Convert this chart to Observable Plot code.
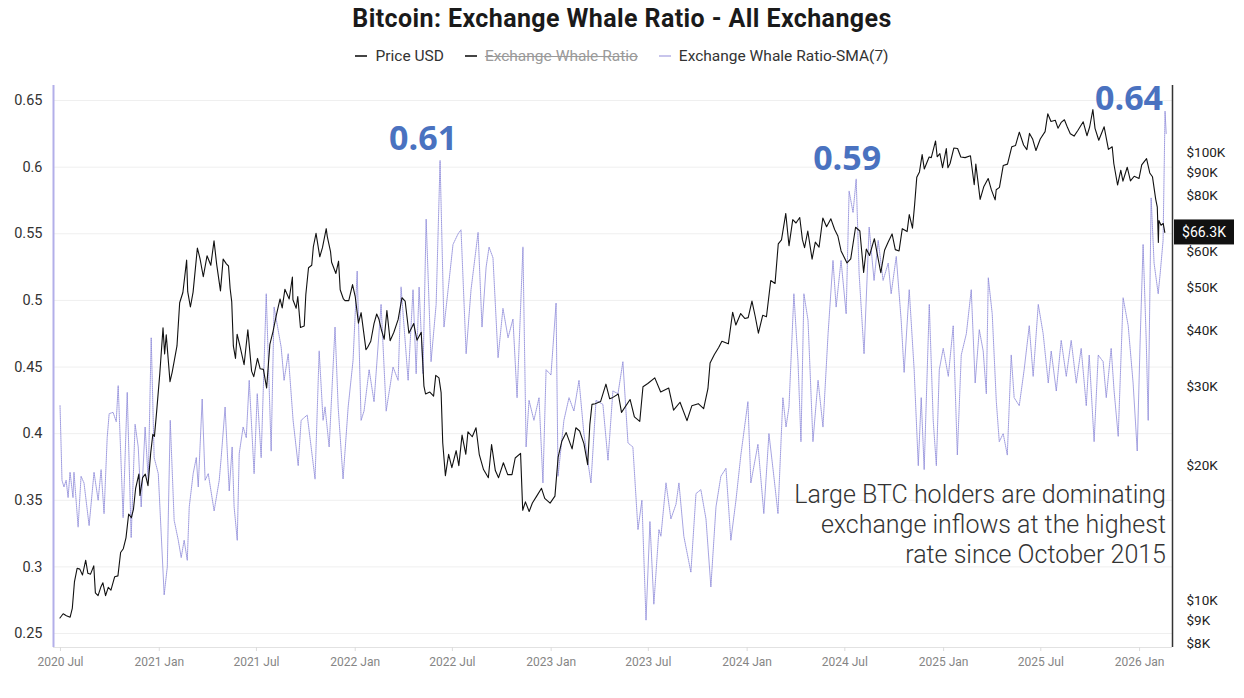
<!DOCTYPE html>
<html>
<head>
<meta charset="utf-8">
<script src="https://cdn.jsdelivr.net/npm/d3@7"></script>
<script src="https://cdn.jsdelivr.net/npm/@observablehq/plot@0.6"></script>
<style>
  body { margin: 0; background: #fff; font-family: Roboto, "Noto Sans", sans-serif; }
  #wrap { position: relative; width: 1244px; height: 698px; overflow: hidden; background: #fff; }
  #title { position: absolute; top: 4px; left: 0; width: 1244px; text-align: center; font-weight: 700; font-size: 25px; color: #1a1a1a; letter-spacing: 0.4px; }
  #legend { position: absolute; top: 47px; left: 0; width: 1244px; display: flex; justify-content: center; gap: 21px; font-size: 15.5px; color: #333; }
  #legend .item { display: flex; align-items: center; gap: 8px; }
  #legend .sw { display: inline-block; width: 12px; height: 1.5px; }
  #legend .off { color: #9a9a9a; text-decoration: line-through; }
  .layer { position: absolute; left: 0; top: 72px; }
  #note { position: absolute; right: 78px; top: 480px; text-align: right; font-size: 25px; font-weight: 300; line-height: 30px; color: #333; }
</style>
</head>
<body>
<div id="wrap">
  <div id="title"></div>
  <div id="legend"></div>
  <div id="ratioLayer" class="layer"></div>
  <div id="priceLayer" class="layer"></div>
  <div id="note"></div>
</div>
<script>
// ---------- data ----------
const chartTitle = "Bitcoin: Exchange Whale Ratio - All Exchanges";
const legendLabels = ["Price USD", "Exchange Whale Ratio", "Exchange Whale Ratio-SMA(7)"];
const noteLines = ["Large BTC holders are dominating", "exchange inflows at the highest", "rate since October 2015"];

const xTickDates = ["2020-07-01","2021-01-01","2021-07-01","2022-01-01","2022-07-01","2023-01-01","2023-07-01","2024-01-01","2024-07-01","2025-01-01","2025-07-01","2026-01-01"];
const ratioTicks = [0.25, 0.3, 0.35, 0.4, 0.45, 0.5, 0.55, 0.6, 0.65];
// the $70K tick sits under the last-price badge
const priceTicks = [8000, 9000, 10000, 20000, 30000, 40000, 50000, 60000, 80000, 90000, 100000];
const lastPriceLabel = "$66.3K";

// BTC price (USD)
const pricePoints = [
["2020-06-30",9140],["2020-07-06",9340],["2020-07-12",9250],["2020-07-19",9180],["2020-07-23",9600],["2020-07-27",11000],["2020-08-01",11800],["2020-08-06",11750],["2020-08-11",11400],["2020-08-17",12300],["2020-08-21",11500],["2020-08-26",11450],["2020-09-01",11950],["2020-09-04",10400],["2020-09-09",10250],["2020-09-14",10700],["2020-09-18",10950],["2020-09-23",10250],["2020-09-28",10700],["2020-10-03",10550],["2020-10-10",11300],["2020-10-16",11350],["2020-10-21",12800],["2020-10-26",13050],["2020-10-31",13800],["2020-11-05",15600],["2020-11-10",15300],["2020-11-14",16000],["2020-11-18",17800],["2020-11-24",19150],["2020-11-26",17150],["2020-12-01",18800],["2020-12-06",19150],["2020-12-11",18050],["2020-12-16",21300],["2020-12-20",23500],["2020-12-23",23250],["2020-12-27",26300],
["2021-01-02",32100],["2021-01-08",40600],["2021-01-11",35500],["2021-01-14",39200],["2021-01-21",30800],["2021-01-25",32300],["2021-01-29",34300],["2021-02-03",37000],["2021-02-08",46200],["2021-02-14",48700],["2021-02-21",57500],["2021-02-23",48900],["2021-02-28",45200],["2021-03-05",48800],["2021-03-13",61200],["2021-03-18",57900],["2021-03-24",52800],["2021-03-31",58800],["2021-04-07",56000],["2021-04-13",63500],["2021-04-18",56200],["2021-04-25",49100],["2021-04-30",57800],["2021-05-06",56400],["2021-05-10",55800],["2021-05-13",49700],["2021-05-16",46400],["2021-05-19",37000],["2021-05-23",34700],["2021-05-26",39300],["2021-06-01",36700],["2021-06-08",33600],["2021-06-15",40200],["2021-06-22",32500],["2021-06-26",31600],["2021-07-03",34700],["2021-07-08",32900],["2021-07-14",32800],["2021-07-20",29800],["2021-07-26",37300],["2021-08-01",39900],["2021-08-07",43300],["2021-08-14",47100],["2021-08-18",45000],["2021-08-23",49500],["2021-08-31",47100],["2021-09-06",52700],["2021-09-07",46900],["2021-09-13",44900],["2021-09-16",47700],["2021-09-21",40700],["2021-09-28",41000],["2021-10-01",48200],["2021-10-06",55300],["2021-10-12",56000],["2021-10-15",61600],["2021-10-20",66000],["2021-10-27",58500],["2021-11-01",61300],["2021-11-08",67600],["2021-11-10",64900],["2021-11-16",60100],["2021-11-18",56900],["2021-11-26",53700],["2021-12-01",57200],["2021-12-04",49400],["2021-12-10",47100],["2021-12-13",46700],["2021-12-20",46700],["2021-12-27",50700],
["2022-01-01",47700],["2022-01-07",41600],["2022-01-12",43900],["2022-01-21",36300],["2022-01-24",36700],["2022-01-30",37900],["2022-02-05",41500],["2022-02-10",43600],["2022-02-14",42500],["2022-02-19",40100],["2022-02-24",38300],["2022-03-01",44400],["2022-03-07",38000],["2022-03-14",39700],["2022-03-22",42400],["2022-03-29",47400],["2022-04-04",46600],["2022-04-11",39500],["2022-04-20",41500],["2022-04-26",38100],["2022-05-04",39700],["2022-05-09",30100],["2022-05-12",28900],["2022-05-20",29200],["2022-05-27",28600],["2022-05-31",31800],["2022-06-06",31400],["2022-06-10",29100],["2022-06-13",22500],["2022-06-18",19000],["2022-06-24",21200],["2022-06-30",19800],["2022-07-08",21600],["2022-07-13",20000],["2022-07-19",23400],["2022-07-26",21200],["2022-07-30",23800],["2022-08-07",23200],["2022-08-14",24300],["2022-08-20",21200],["2022-08-28",19600],["2022-09-06",18800],["2022-09-12",22300],["2022-09-19",19500],["2022-09-25",18800],["2022-10-04",20300],["2022-10-12",19100],["2022-10-20",19100],["2022-10-26",20800],["2022-11-05",21300],["2022-11-09",15900],["2022-11-14",16600],["2022-11-21",15800],["2022-11-27",16500],["2022-12-05",17100],["2022-12-14",17800],["2022-12-20",16900],["2022-12-30",16500],
["2023-01-08",17100],["2023-01-14",20900],["2023-01-21",22700],["2023-01-29",23700],["2023-02-09",21800],["2023-02-16",24300],["2023-02-23",23900],["2023-03-03",22400],["2023-03-10",20100],["2023-03-14",24700],["2023-03-18",27400],["2023-03-24",27500],["2023-04-03",27800],["2023-04-13",30400],["2023-04-20",28200],["2023-04-26",28400],["2023-05-06",28900],["2023-05-12",26300],["2023-05-28",28100],["2023-06-05",25700],["2023-06-15",25100],["2023-06-21",30000],["2023-06-30",30500],["2023-07-13",31400],["2023-07-24",29200],["2023-08-08",29800],["2023-08-17",26600],["2023-08-29",27700],["2023-09-11",25200],["2023-09-20",27200],["2023-10-02",27500],["2023-10-12",26800],["2023-10-20",29700],["2023-10-24",33900],["2023-11-01",35400],["2023-11-09",36700],["2023-11-15",37900],["2023-11-27",37400],["2023-12-05",44000],["2023-12-11",41200],["2023-12-20",43700],["2023-12-28",42600],
["2024-01-03",42800],["2024-01-10",46600],["2024-01-16",43100],["2024-01-22",39500],["2024-01-30",43300],["2024-02-06",43000],["2024-02-14",51800],["2024-02-22",51000],["2024-02-28",62500],["2024-03-05",63800],["2024-03-13",73100],["2024-03-19",61900],["2024-03-26",70800],["2024-04-01",69600],["2024-04-08",71600],["2024-04-13",63900],["2024-04-17",61300],["2024-04-23",66800],["2024-05-01",57800],["2024-05-07",63100],["2024-05-14",61500],["2024-05-21",71400],["2024-05-28",68300],["2024-06-05",71100],["2024-06-12",67300],["2024-06-18",65100],["2024-06-24",60300],["2024-07-05",56700],["2024-07-12",57900],["2024-07-21",68100],["2024-07-29",66800],["2024-08-05",54000],["2024-08-10",60900],["2024-08-16",58900],["2024-08-25",64200],["2024-09-06",53900],["2024-09-13",60500],["2024-09-20",63200],["2024-09-27",65800],["2024-10-03",60700],["2024-10-10",60300],["2024-10-16",67600],["2024-10-25",66600],["2024-10-29",72700],["2024-11-04",67800],["2024-11-08",76500],["2024-11-12",88000],["2024-11-17",90500],["2024-11-22",98900],["2024-11-26",91900],["2024-12-05",97700],["2024-12-09",97400],["2024-12-17",106100],["2024-12-20",97800],["2024-12-25",99400],["2024-12-30",92500],
["2025-01-06",102000],["2025-01-09",92500],["2025-01-13",94500],["2025-01-20",102300],["2025-01-27",102100],["2025-02-02",97700],["2025-02-10",97400],["2025-02-20",98300],["2025-02-27",84700],["2025-03-02",94200],["2025-03-10",78600],["2025-03-17",84000],["2025-03-25",87500],["2025-03-31",82500],["2025-04-07",78400],["2025-04-09",82600],["2025-04-15",83600],["2025-04-22",93500],["2025-04-30",94200],["2025-05-08",103000],["2025-05-15",103700],["2025-05-22",111000],["2025-05-30",103900],["2025-06-05",101500],["2025-06-10",110300],["2025-06-16",107000],["2025-06-22",101000],["2025-06-30",107200],["2025-07-09",111300],["2025-07-14",122000],["2025-07-20",117300],["2025-07-28",118000],["2025-08-02",113300],["2025-08-08",116700],["2025-08-14",118300],["2025-08-20",113500],["2025-08-25",110100],["2025-09-01",108800],["2025-09-08",112000],["2025-09-18",117100],["2025-09-25",109000],["2025-09-30",114000],["2025-10-06",124700],["2025-10-10",113200],["2025-10-17",106500],["2025-10-27",114100],["2025-11-04",101600],["2025-11-11",103000],["2025-11-14",94500],["2025-11-21",84600],["2025-11-27",91300],["2025-12-01",86300],["2025-12-09",92700],["2025-12-15",86400],["2025-12-22",88500],["2025-12-31",87500],
["2026-01-05",93800],["2026-01-14",96900],["2026-01-20",90000],["2026-01-25",88300],["2026-01-31",78700],["2026-02-03",75500],["2026-02-05",63000],["2026-02-06",70500],["2026-02-10",68800],["2026-02-14",69500],["2026-02-17",66300]
];

// Exchange Whale Ratio SMA(7): [decimal year, ratio]
const ratioPoints = [
[2020.495,0.421],[2020.505,0.365],[2020.515,0.36],[2020.526,0.365],[2020.536,0.352],[2020.546,0.371],[2020.561,0.352],[2020.566,0.371],[2020.587,0.33],[2020.602,0.368],[2020.617,0.363],[2020.643,0.331],[2020.668,0.371],[2020.689,0.35],[2020.704,0.373],[2020.719,0.34],[2020.735,0.397],[2020.745,0.415],[2020.765,0.416],[2020.781,0.409],[2020.791,0.436],[2020.816,0.337],[2020.837,0.431],[2020.857,0.322],[2020.877,0.407],[2020.893,0.39],[2020.908,0.345],[2020.928,0.405],[2020.944,0.365],[2020.959,0.472],[2020.974,0.382],[2020.995,0.37],
[2021.025,0.279],[2021.041,0.30],[2021.056,0.41],[2021.076,0.335],[2021.097,0.32],[2021.112,0.307],[2021.127,0.32],[2021.143,0.305],[2021.153,0.345],[2021.173,0.37],[2021.189,0.382],[2021.199,0.36],[2021.219,0.426],[2021.234,0.365],[2021.250,0.37],[2021.280,0.342],[2021.306,0.365],[2021.316,0.382],[2021.336,0.42],[2021.357,0.357],[2021.372,0.39],[2021.382,0.345],[2021.398,0.32],[2021.408,0.385],[2021.428,0.405],[2021.444,0.397],[2021.459,0.44],[2021.484,0.37],[2021.500,0.43],[2021.520,0.382],[2021.546,0.505],[2021.571,0.387],[2021.586,0.495],[2021.622,0.465],[2021.637,0.44],[2021.658,0.46],[2021.683,0.41],[2021.709,0.376],[2021.724,0.41],[2021.755,0.414],[2021.775,0.39],[2021.795,0.366],[2021.816,0.462],[2021.836,0.41],[2021.846,0.42],[2021.867,0.39],[2021.897,0.48],[2021.913,0.42],[2021.938,0.366],[2021.964,0.42],[2021.989,0.455],
[2022.010,0.522],[2022.030,0.41],[2022.045,0.417],[2022.071,0.448],[2022.096,0.424],[2022.132,0.497],[2022.158,0.417],[2022.193,0.45],[2022.219,0.44],[2022.234,0.51],[2022.270,0.44],[2022.295,0.508],[2022.311,0.445],[2022.326,0.51],[2022.346,0.445],[2022.362,0.561],[2022.387,0.454],[2022.413,0.497],[2022.433,0.605],[2022.453,0.48],[2022.474,0.508],[2022.499,0.542],[2022.525,0.55],[2022.540,0.553],[2022.566,0.46],[2022.591,0.508],[2022.627,0.551],[2022.647,0.48],[2022.668,0.525],[2022.683,0.54],[2022.703,0.532],[2022.729,0.457],[2022.754,0.494],[2022.780,0.472],[2022.805,0.486],[2022.826,0.427],[2022.856,0.54],[2022.872,0.39],[2022.887,0.425],[2022.912,0.41],[2022.938,0.427],[2022.958,0.363],[2022.974,0.448],[2022.999,0.444],
[2023.025,0.498],[2023.035,0.368],[2023.065,0.41],[2023.091,0.427],[2023.116,0.417],[2023.142,0.44],[2023.167,0.40],[2023.203,0.363],[2023.229,0.425],[2023.264,0.422],[2023.290,0.38],[2023.315,0.432],[2023.341,0.43],[2023.366,0.454],[2023.392,0.393],[2023.417,0.39],[2023.443,0.328],[2023.463,0.35],[2023.484,0.26],[2023.504,0.334],[2023.524,0.272],[2023.550,0.328],[2023.560,0.323],[2023.586,0.363],[2023.611,0.336],[2023.637,0.347],[2023.652,0.363],[2023.677,0.323],[2023.713,0.296],[2023.739,0.355],[2023.764,0.358],[2023.790,0.336],[2023.815,0.285],[2023.841,0.345],[2023.866,0.368],[2023.892,0.374],[2023.917,0.32],[2023.943,0.35],[2023.968,0.384],
[2024.004,0.424],[2024.019,0.363],[2024.055,0.392],[2024.085,0.34],[2024.111,0.40],[2024.136,0.368],[2024.157,0.34],[2024.182,0.427],[2024.198,0.405],[2024.213,0.42],[2024.238,0.505],[2024.259,0.454],[2024.274,0.394],[2024.289,0.505],[2024.310,0.485],[2024.335,0.394],[2024.361,0.44],[2024.386,0.405],[2024.412,0.475],[2024.437,0.53],[2024.453,0.495],[2024.478,0.53],[2024.504,0.49],[2024.519,0.582],[2024.539,0.566],[2024.555,0.591],[2024.570,0.52],[2024.595,0.46],[2024.621,0.555],[2024.646,0.515],[2024.667,0.545],[2024.692,0.515],[2024.718,0.528],[2024.733,0.505],[2024.759,0.533],[2024.784,0.485],[2024.799,0.446],[2024.825,0.508],[2024.850,0.448],[2024.871,0.376],[2024.886,0.427],[2024.901,0.373],[2024.927,0.497],[2024.947,0.41],[2024.963,0.376],[2024.978,0.448],[2024.998,0.464],
[2025.024,0.443],[2025.049,0.481],[2025.070,0.384],[2025.090,0.459],[2025.116,0.475],[2025.141,0.508],[2025.161,0.438],[2025.182,0.478],[2025.202,0.462],[2025.218,0.43],[2025.228,0.517],[2025.248,0.49],[2025.269,0.424],[2025.284,0.394],[2025.304,0.40],[2025.325,0.384],[2025.345,0.459],[2025.360,0.427],[2025.386,0.421],[2025.411,0.448],[2025.437,0.481],[2025.457,0.443],[2025.483,0.497],[2025.508,0.475],[2025.534,0.438],[2025.549,0.462],[2025.575,0.432],[2025.600,0.47],[2025.626,0.443],[2025.651,0.47],[2025.677,0.438],[2025.702,0.464],[2025.728,0.421],[2025.743,0.459],[2025.768,0.394],[2025.789,0.459],[2025.814,0.454],[2025.830,0.427],[2025.855,0.464],[2025.870,0.432],[2025.891,0.398],[2025.916,0.502],[2025.942,0.481],[2025.967,0.438],[2025.988,0.387],
[2026.003,0.47],[2026.018,0.542],[2026.034,0.47],[2026.044,0.41],[2026.059,0.577],[2026.074,0.528],[2026.095,0.505],[2026.105,0.52],[2026.120,0.545],[2026.130,0.642],[2026.136,0.625]
];

// highlighted peaks of the SMA(7) ratio
const peakTimes = [2022.433, 2024.555, 2026.130];
const peakValues = [0.605, 0.591, 0.642];
const peakLabels = ["0.61", "0.59", "0.64"];

// ---------- helpers ----------
function fromDecimalYear(t) {
  const y = Math.floor(t);
  const a = Date.UTC(y, 0, 1), b = Date.UTC(y + 1, 0, 1);
  return new Date(a + (t - y) * (b - a));
}
const price = pricePoints.map(([d, v]) => ({date: new Date(d + "T00:00:00Z"), value: v}));
const ratio = ratioPoints.map(([t, v]) => ({date: fromDecimalYear(t), value: v}));
const peaks = peakTimes.map((t, i) => ({date: fromDecimalYear(t), value: peakValues[i], label: peakLabels[i]}));
const xTicks = xTickDates.map(d => new Date(d + "T00:00:00Z"));

// ---------- HTML text ----------
document.getElementById("title").textContent = chartTitle;
const legendColors = ["#444", "#444", "#c8c5ec"];
const leg = document.getElementById("legend");
legendLabels.forEach((l, i) => {
  const it = document.createElement("div");
  it.className = "item";
  it.innerHTML = `<span class="sw" style="background:${legendColors[i]}"></span><span class="${i === 1 ? "off" : ""}">${l}</span>`;
  leg.appendChild(it);
});
document.getElementById("note").innerHTML = noteLines.join("<br>");

// ---------- charts ----------
const W = 1244, H = 626, mL = 53, mR = 72, mT = 13, mB = 51;
const xDomain = [new Date("2020-06-18T00:00:00Z"), new Date("2026-03-03T08:00:00Z")];
const font = "Roboto, 'Noto Sans', sans-serif";
const blue = "#4a72c0";

const ratioChart = Plot.plot({
  width: W, height: H, marginLeft: mL, marginRight: mR, marginTop: mT, marginBottom: mB,
  style: {background: "transparent", fontFamily: font, overflow: "visible"},
  x: {type: "utc", domain: xDomain, axis: null},
  y: {domain: [0.2395, 0.6613], axis: null},
  marks: [
    Plot.gridY(ratioTicks, {stroke: "#efefef", strokeOpacity: 1}),
    Plot.ruleY([0.2395], {stroke: "#e2e2e2"}),
    Plot.axisX(xTicks, {label: null, tickSize: 4, stroke: "#dcdcdc", fill: "#858585", fontSize: 12, tickPadding: 6, tickFormat: d3.utcFormat("%Y %b")}),
    Plot.axisY(ratioTicks, {label: null, anchor: "left", tickSize: 0, tickPadding: 11, fontSize: 14.5, fill: "#333", tickFormat: d => String(d)}),
    Plot.ruleX([xDomain[0]], {stroke: "#b3afe9", strokeWidth: 2}),
    Plot.line(ratio, {x: "date", y: "value", stroke: "#8c88d8", strokeWidth: 1, strokeDasharray: "1,1", strokeOpacity: 0.85}),
    Plot.text(peaks.slice(0, 1), {x: "date", y: "value", text: "label", dx: -17, dy: -21, fill: blue, fontSize: 34, fontWeight: 700, fontFamily: "'Open Sans', sans-serif"}),
    Plot.text(peaks.slice(1, 2), {x: "date", y: "value", text: "label", dx: -9, dy: -20, fill: blue, fontSize: 34, fontWeight: 700, fontFamily: "'Open Sans', sans-serif"}),
    Plot.text(peaks.slice(2, 3), {x: "date", y: "value", text: "label", dx: -36, dy: -12, fill: blue, fontSize: 34, fontWeight: 700, fontFamily: "'Open Sans', sans-serif"})
  ]
});
document.getElementById("ratioLayer").appendChild(ratioChart);

const priceChart = Plot.plot({
  width: W, height: H, marginLeft: mL, marginRight: mR, marginTop: mT, marginBottom: mB,
  style: {background: "transparent", fontFamily: font, overflow: "visible"},
  x: {type: "utc", domain: xDomain, axis: null},
  y: {type: "log", domain: [7854, 141100], axis: null},
  marks: [
    Plot.axisY(priceTicks, {label: null, anchor: "right", tickSize: 0, tickPadding: 14, fontSize: 13.5, fill: "#222", tickFormat: d => "$" + (d / 1000) + "K"}),
    Plot.ruleX([xDomain[1]], {stroke: "#333", strokeWidth: 1.5}),
    Plot.line(price, {x: "date", y: "value", stroke: "#111", strokeWidth: 1.1})
  ]
});
document.getElementById("priceLayer").appendChild(priceChart);

// last-price badge on the right axis
const last = price[price.length - 1];
const yLast = priceChart.scale("y").apply(last.value);
const xEdge = priceChart.scale("x").apply(xDomain[1]);
const svg = d3.select(priceChart);
svg.append("rect").attr("x", xEdge + 2).attr("y", yLast - 12.5).attr("width", 60).attr("height", 25).attr("fill", "#111");
svg.append("text").attr("x", xEdge + 32).attr("y", yLast).attr("dy", "0.35em").attr("text-anchor", "middle")
  .attr("fill", "#fff").attr("font-size", 14).attr("font-family", font).text(lastPriceLabel);
</script>
</body>
</html>
